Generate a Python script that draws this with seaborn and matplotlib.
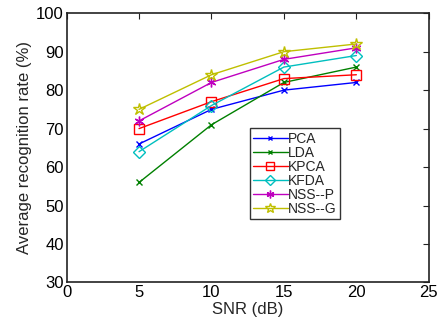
import matplotlib
matplotlib.use("Agg")
from matplotlib import pyplot as plt
import seaborn as sb

# recognition rate vs SNR
snr = [5, 10, 15, 20]
pca = [66, 75, 80, 82]
lda = [56, 71, 82, 86]
kpca = [70, 77, 83, 84]
kfda = [64, 76, 86, 89]
nss_p = [72, 82, 88, 91]
nss_g = [75, 84, 90, 92]
methods = ['PCA', 'LDA', 'KPCA', 'KFDA', 'NSS--P', 'NSS--G']
series = [pca, lda, kpca, kfda, nss_p, nss_g]

# matlab-ish colours b, g, r, c, m, y
colors = ['#0000ff', '#008000', '#ff0000', '#00bfbf', '#bf00bf', '#bfbf00']
# (6, 2, 0) is a six-armed asterisk, '*' in matplotlib is the pentagram
markers = ['x', 'x', 's', 'D', (6, 2, 0), '*']
msizes = [4, 4, 7, 6, 7, 9]

sb.set_style('white')
plt.rcParams['font.family'] = ['Liberation Sans', 'DejaVu Sans']
plt.rcParams['font.size'] = 12

fig = plt.figure(figsize=(4.38, 3.3), dpi=100)
ax = fig.add_axes([0.152, 0.144, 0.827, 0.816])

for name, vals, col, mk, ms in zip(methods, series, colors, markers, msizes):
    sb.lineplot(x=snr, y=vals, color=col, marker=mk, markersize=ms,
                markerfacecolor='none', markeredgecolor=col,
                markeredgewidth=1, linewidth=1, label=name, ax=ax,
                legend=False)

ax.set_xlim(0, 25)
ax.set_ylim(30, 100)
ax.set_xticks([0, 5, 10, 15, 20, 25])
ax.set_yticks(range(30, 101, 10))
ax.set_xlabel('SNR (dB)', labelpad=1, fontsize=12)
ax.set_ylabel('Average recognition rate (%)', labelpad=3, fontsize=12)
ax.tick_params(direction='in', length=4, width=0.8, top=True, right=True,
               labelsize=12, pad=2, colors='#222222', labelcolor='black')
for sp in ax.spines.values():
    sp.set_linewidth(1.2)
    sp.set_color('#222222')

leg = ax.legend(ax.get_lines(), methods, loc='upper left',
                bbox_to_anchor=(0.505, 0.572), frameon=True, fancybox=False,
                edgecolor='black', handlelength=2.5, handletextpad=0.0,
                borderpad=0.25, labelspacing=0.0, borderaxespad=0,
                fontsize=10, markerscale=0.8)
leg.get_frame().set_linewidth(1)

fig.savefig('out.png', dpi=100)
